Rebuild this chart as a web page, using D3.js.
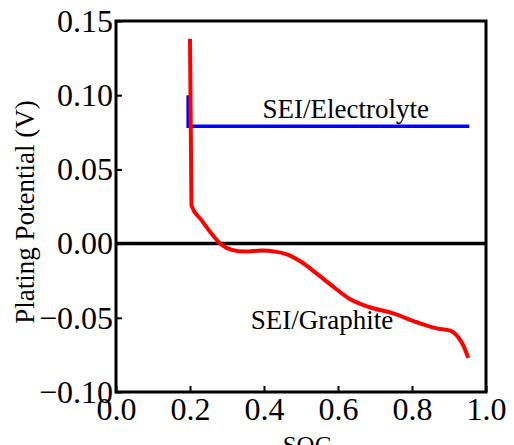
<!DOCTYPE html>
<html>
<head>
<meta charset="utf-8">
<script src="https://cdn.jsdelivr.net/npm/d3@7"></script>
<style>
  html, body { margin: 0; padding: 0; background: #fff; }
  svg { display: block; }
  text { font-family: "Liberation Serif", "Times New Roman", serif; fill: #000; }
</style>
</head>
<body>
<svg id="chart" width="514" height="445"></svg>
<script>
// ---- data ----
const xTicks = [0.0, 0.2, 0.4, 0.6, 0.8, 1.0];
const yTicks = [0.15, 0.10, 0.05, 0.00, -0.05, -0.10];
const xTickLabels = ["0.0", "0.2", "0.4", "0.6", "0.8", "1.0"];
const yTickLabels = ["0.15", "0.10", "0.05", "0.00", "\u22120.05", "\u22120.10"];

const socGraphite = [0.200, 0.204, 0.232, 0.259, 0.286, 0.313, 0.349, 0.394, 0.430, 0.466, 0.502, 0.547, 0.587, 0.632, 0.686, 0.749, 0.813, 0.867, 0.903, 0.925, 0.939, 0.952];
const vGraphite   = [0.138, 0.0256, 0.0155, 0.0065, -0.0009, -0.0042, -0.0054, -0.0047, -0.0054, -0.0076, -0.0126, -0.0211, -0.0290, -0.0373, -0.0429, -0.0470, -0.0530, -0.0571, -0.0586, -0.0631, -0.0687, -0.0770];

const socElectrolyte = [0.195, 0.195, 0.955];
const vElectrolyte   = [0.100, 0.079, 0.079];

const zeroLineX = [0.0, 1.0];
const zeroLineY = [0.0, 0.0];

const labels = ["SEI/Electrolyte", "SEI/Graphite"];
const labelPos = [[0.621, 0.0845], [0.557, -0.0575]];

// ---- layout ----
const svg = d3.select("#chart");
const L = 116, R = 486, T = 21, B = 392;

const x = d3.scaleLinear().domain([0, 1]).range([L, R]);
const y = d3.scaleLinear().domain([-0.10, 0.15]).range([B, T]);

const line = d3.line().x(d => x(d[0])).y(d => y(d[1]));

// zero line
svg.append("path")
  .datum(d3.zip(zeroLineX, zeroLineY))
  .attr("d", line)
  .attr("fill", "none").attr("stroke", "#000").attr("stroke-width", 3.5);

// blue
svg.append("path")
  .datum(d3.zip(socElectrolyte, vElectrolyte))
  .attr("d", line)
  .attr("fill", "none").attr("stroke", "#0000ff").attr("stroke-width", 3.5);

// red
svg.append("path")
  .datum(d3.zip(socGraphite, vGraphite))
  .attr("d", line.curve(d3.curveMonotoneX))
  .attr("fill", "none").attr("stroke", "#ff0000").attr("stroke-width", 4)
  .attr("stroke-linejoin", "round");

// axes
const xAxis = d3.axisBottom(x).tickValues(xTicks)
  .tickFormat((d, i) => xTickLabels[i]).tickSize(-6).tickPadding(5);
const yAxis = d3.axisLeft(y).tickValues(yTicks)
  .tickFormat((d, i) => yTickLabels[i]).tickSize(-6).tickPadding(3);

const gx = svg.append("g").attr("transform", `translate(0,${B})`).call(xAxis);
const gy = svg.append("g").attr("transform", `translate(${L},0)`).call(yAxis);
[gx, gy].forEach(g => {
  g.attr("font-family", "Liberation Serif, serif");
  g.select(".domain").remove();
  g.selectAll(".tick line").attr("stroke", "#000").attr("stroke-width", 2);
  g.selectAll(".tick text").attr("font-size", 32).attr("font-family", "Liberation Serif, serif").attr("fill", "#000");
});

// frame
svg.append("rect")
  .attr("x", L).attr("y", T).attr("width", R - L).attr("height", B - T)
  .attr("fill", "none").attr("stroke", "#000").attr("stroke-width", 3);

// axis titles
svg.append("text")
  .attr("x", 307).attr("y", 454)
  .attr("text-anchor", "middle").attr("font-size", 25)
  .text("SOC");

svg.append("text")
  .attr("transform", "translate(34,212) rotate(-90)")
  .attr("text-anchor", "middle").attr("font-size", 27)
  .text("Plating Potential (V)");

// annotations
labels.forEach((t, i) => {
  svg.append("text")
    .attr("x", x(labelPos[i][0])).attr("y", y(labelPos[i][1]))
    .attr("text-anchor", "middle").attr("font-size", 27)
    .text(t);
});
</script>
</body>
</html>
